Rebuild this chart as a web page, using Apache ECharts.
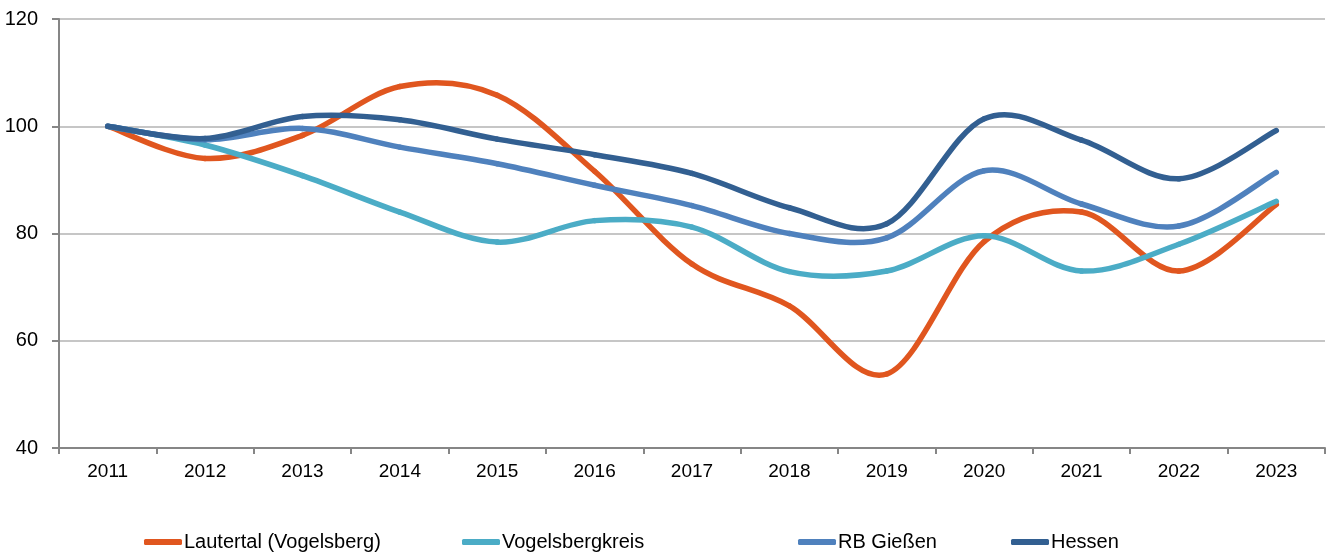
<!DOCTYPE html>
<html>
<head>
<meta charset="utf-8">
<script src="https://cdn.jsdelivr.net/npm/echarts@6/dist/echarts.min.js"></script>
<style>
  html, body { margin: 0; padding: 0; background: #fff; }
  #chart { width: 1329px; height: 556px; }
</style>
</head>
<body>
<div id="chart"></div>
<script>
// Index values (2011 = 100)
const years = ['2011', '2012', '2013', '2014', '2015', '2016', '2017', '2018', '2019', '2020', '2021', '2022', '2023'];
const lautertal = [100, 94.0, 98.3, 107.4, 105.8, 91.6, 74.3, 66.5, 53.8, 78.5, 84.0, 73.0, 85.4];
const vogelsbergkreis = [100, 96.5, 90.8, 84.0, 78.4, 82.4, 81.2, 72.9, 73.0, 79.6, 73.0, 78.0, 86.0];
const rbGiessen = [100, 97.5, 99.6, 96.1, 93.0, 89.0, 85.2, 80.0, 79.2, 91.7, 85.5, 81.4, 91.4];
const hessen = [100, 97.7, 101.8, 101.2, 97.6, 94.7, 91.2, 84.8, 81.8, 101.4, 97.4, 90.2, 99.2];
const seriesNames = ['Lautertal (Vogelsberg)', 'Vogelsbergkreis', 'RB Gießen', 'Hessen'];
const seriesColors = ['#E0561F', '#4BACC6', '#4F81BD', '#325F91'];

const FONT = '"Liberation Sans", Arial, sans-serif';

const chart = echarts.init(document.getElementById('chart'), null, { renderer: 'canvas' });

// Smooth line drawn as Catmull-Rom style cubic segments between
// neighbouring data points; every point comes from api.coord.
function smoothSeries(name, values, color) {
  return {
    name: name,
    type: 'custom',
    coordinateSystem: 'cartesian2d',
    data: values.map(function (v, i) { return [i, v]; }),
    encode: { x: 0, y: 1 },
    itemStyle: { color: color },
    silent: true,
    renderItem: function (params, api) {
      const i = params.dataIndex;
      const n = values.length;
      if (i >= n - 1) return null;
      const p = function (k) {
        k = Math.max(0, Math.min(n - 1, k));
        return api.coord([k, values[k]]);
      };
      const p0 = p(i - 1), p1 = p(i), p2 = p(i + 1), p3 = p(i + 2);
      return {
        type: 'bezierCurve',
        shape: {
          x1: p1[0], y1: p1[1],
          x2: p2[0], y2: p2[1],
          cpx1: p1[0] + (p2[0] - p0[0]) / 6,
          cpy1: p1[1] + (p2[1] - p0[1]) / 6,
          cpx2: p2[0] - (p3[0] - p1[0]) / 6,
          cpy2: p2[1] - (p3[1] - p1[1]) / 6
        },
        style: { stroke: color, lineWidth: 5.5, fill: null, lineCap: 'round', lineJoin: 'round' }
      };
    }
  };
}

const legendLeft = [139, 457, 793, 1006];
const legends = seriesNames.map(function (name, k) {
  return {
    top: 527,
    left: legendLeft[k],
    itemWidth: 38,
    itemHeight: 6,
    icon: 'roundRect',
    selectedMode: false,
    textStyle: { fontFamily: FONT, fontSize: 20, color: '#000', padding: [0, 0, 0, -3] },
    data: [name]
  };
});

chart.setOption({
  animation: false,
  backgroundColor: '#ffffff',
  grid: { left: 59, right: 4, top: 19, bottom: 108, containLabel: false },
  legend: legends,
  xAxis: {
    type: 'category',
    data: years,
    boundaryGap: true,
    axisLine: { lineStyle: { color: '#868686', width: 2 } },
    axisTick: { show: true, alignWithLabel: false, length: 6, lineStyle: { color: '#868686', width: 2 } },
    axisLabel: { fontFamily: FONT, fontSize: 19, color: '#000', margin: 14 },
    splitLine: { show: false }
  },
  yAxis: {
    type: 'value',
    min: 40,
    max: 120,
    interval: 20,
    axisLine: { show: true, lineStyle: { color: '#868686', width: 2 } },
    axisTick: { show: true, length: 7, lineStyle: { color: '#868686', width: 2 } },
    axisLabel: { fontFamily: FONT, fontSize: 20, color: '#000', margin: 21 },
    splitLine: { show: true, lineStyle: { color: '#b3b3b3', width: 1.5 } }
  },
  series: [
    smoothSeries(seriesNames[0], lautertal, seriesColors[0]),
    smoothSeries(seriesNames[1], vogelsbergkreis, seriesColors[1]),
    smoothSeries(seriesNames[2], rbGiessen, seriesColors[2]),
    smoothSeries(seriesNames[3], hessen, seriesColors[3])
  ]
});
</script>
</body>
</html>
